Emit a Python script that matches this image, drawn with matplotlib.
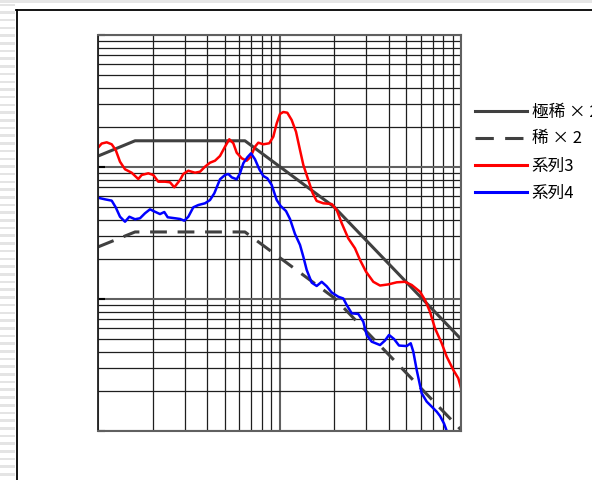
import numpy as np
import matplotlib.pyplot as plt
from matplotlib.patches import Rectangle
from matplotlib.lines import Line2D

plt.rcParams['font.family'] = ['Noto Sans CJK JP', 'DejaVu Sans']

labels = ['極稀 × 2', '稀 × 2', '系列3', '系列4']

# piecewise reference curves
ref_x = [1.0, 1.6, 6.45, 20.0, 100.0]
ref_very = [121, 158, 158, 49.8, 4.97]
ref_dil = [24.8, 32.2, 32.2, 10.2, 1.02]

s3_x = [1.0, 1.048, 1.117, 1.19, 1.252, 1.322, 1.409, 1.533, 1.667, 1.741,
        1.893, 2.017, 2.149, 2.339, 2.493, 2.633, 2.83, 2.951, 3.145, 3.423,
        3.648, 3.886, 4.141, 4.412, 4.701, 5.01, 5.29, 5.567, 5.81, 6.191,
        6.596, 6.939, 7.328, 7.642, 8.142, 8.787, 9.244, 9.652, 10.06, 10.49,
        11.04, 11.67, 12.33, 12.97, 13.53, 14.41, 15.24, 16.03, 17.43, 19.4,
        20.66, 22.02, 23.93, 26.06, 27.77, 29.97, 32.87, 35.79, 39.77, 44.23,
        49.14, 53.51, 59.43, 63.35, 67.46, 71.89, 78.27, 83.41, 90.7, 96.6, 100.0]
s3_y = [140.0, 150.6, 153.8, 148.6, 134.5, 109.7, 96.1, 90.5, 81.1, 87.0,
        89.6, 87.0, 77.4, 77.4, 76.6, 70.2, 79.7, 88.5, 93.7, 90.5,
        92.1, 100.5, 107.8, 111.6, 121.2, 142.5, 162.2, 151.3, 128.3, 116.4,
        111.6, 119.7, 142.5, 152.8, 148.6, 151.3, 169.7, 214.3, 252.1, 261.0,
        257.8, 227.0, 185.0, 134.5, 103.6, 79.7, 63.2, 55.3, 53.1, 52.4,
        47.2, 37.5, 28.8, 24.2, 19.75, 16.1, 13.5, 12.65, 12.9, 13.38,
        13.5, 12.77, 11.36, 9.83, 8.01, 6.0, 4.62, 3.66, 2.9, 2.51, 2.12]

s4_x = [1.0, 1.093, 1.19, 1.252, 1.322, 1.409, 1.488, 1.599, 1.704, 1.815,
        1.934, 2.061, 2.196, 2.319, 2.421, 2.657, 2.83, 2.989, 3.145, 3.35,
        3.569, 3.886, 4.141, 4.373, 4.701, 5.01, 5.224, 5.455, 5.81, 6.06,
        6.318, 6.647, 6.966, 7.328, 7.739, 8.142, 8.568, 9.058, 9.652, 10.15,
        10.86, 11.42, 12.17, 12.97, 13.53, 14.12, 15.05, 16.03, 17.08, 18.2,
        19.4, 21.09, 22.47, 23.46, 25.0, 27.18, 28.95, 30.23, 32.21, 35.79,
        38.14, 40.12, 42.74, 45.54, 50.2, 52.84, 54.6, 57.0, 60.75, 64.7,
        68.97, 73.5, 76.6, 80.6, 83.7]
s4_y = [58.5, 56.9, 55.6, 49.5, 42.0, 38.5, 42.0, 40.2, 40.9, 44.6,
        47.8, 45.8, 44.0, 45.6, 41.6, 40.9, 40.4, 39.2, 42.0, 49.5,
        51.5, 53.1, 56.2, 63.2, 80.7, 87.0, 88.5, 83.5, 80.7, 89.6,
        106.7, 118.4, 127.0, 114.4, 96.1, 85.5, 82.1, 73.1, 56.2, 50.6,
        46.4, 40.4, 31.1, 25.7, 20.9, 16.6, 13.3, 12.55, 13.5, 12.48,
        11.2, 10.4, 10.09, 9.0, 7.79, 7.7, 6.73, 5.34, 4.75, 4.48,
        4.85, 5.34, 4.98, 4.44, 4.4, 4.62, 3.99, 2.9, 1.93, 1.67,
        1.53, 1.4, 1.3, 1.14, 0.99]

W, H = 592, 480
fig = plt.figure(figsize=(W / 100, H / 100), dpi=100)

# window background: striped left margin and chart-area frame
bg = fig.add_axes([0, 0, 1, 1], zorder=0)
bg.set_xlim(0, W)
bg.set_ylim(H, 0)
bg.axis('off')
for y0 in np.arange(3.5, H, 7.7):
    bg.add_patch(Rectangle((0, y0), 15, 2.6, color='#e4e4e4', lw=0))
bg.add_patch(Rectangle((0, 0), W, 2.5, color='#e6e6e6', lw=0))
bg.plot([16.5, 16.5], [9.5, H], color='black', lw=1.3)
bg.plot([16, W], [9.5, 9.5], color='black', lw=1.3)

ax = fig.add_axes([98 / W, 49 / H, 363 / W, 396 / H], zorder=1)
ax.set_xscale('log')
ax.set_yscale('log')
ax.set_xlim(1, 100)
ax.set_ylim(1, 1000)
ax.patch.set_alpha(0)

ax.grid(True, which='major', color='#606060', lw=1.5)
ax.grid(True, which='minor', color='#1e1e1e', lw=0.9)
ax.tick_params(which='both', labelbottom=False, labelleft=False)
ax.tick_params(axis='x', which='both', length=0)
ax.tick_params(axis='y', which='major', direction='in', length=5, width=1.5, color='black')
ax.tick_params(axis='y', which='minor', length=0)
for side in ['top', 'right', 'bottom']:
    ax.spines[side].set_color('#606060')
    ax.spines[side].set_linewidth(1.5)
ax.spines['left'].set_color('#202020')
ax.spines['left'].set_linewidth(1.3)

ax.plot(ref_x, ref_very, color='#404040', lw=2.2, solid_capstyle='butt')
ax.plot(ref_x, ref_dil, color='#404040', lw=2.2, dashes=(5.5, 3.5))
ax.plot(s3_x, s3_y, color='#ff0000', lw=1.8)
ax.plot(s4_x, s4_y, color='#0000ff', lw=1.8)

handles = [
    Line2D([], [], color='#404040', lw=2.2),
    Line2D([], [], color='#404040', lw=2.2, dashes=(6, 3.7)),
    Line2D([], [], color='#ff0000', lw=2.2),
    Line2D([], [], color='#0000ff', lw=2.2),
]
ax.legend(handles, labels, loc='center left',
          bbox_to_anchor=(475 / W, (H - 152.5) / H), bbox_transform=fig.transFigure,
          frameon=False, fontsize=12, handlelength=3.1, handletextpad=0.3,
          labelspacing=0.6, borderpad=0, borderaxespad=0)

fig.savefig('out.png', dpi=100)
